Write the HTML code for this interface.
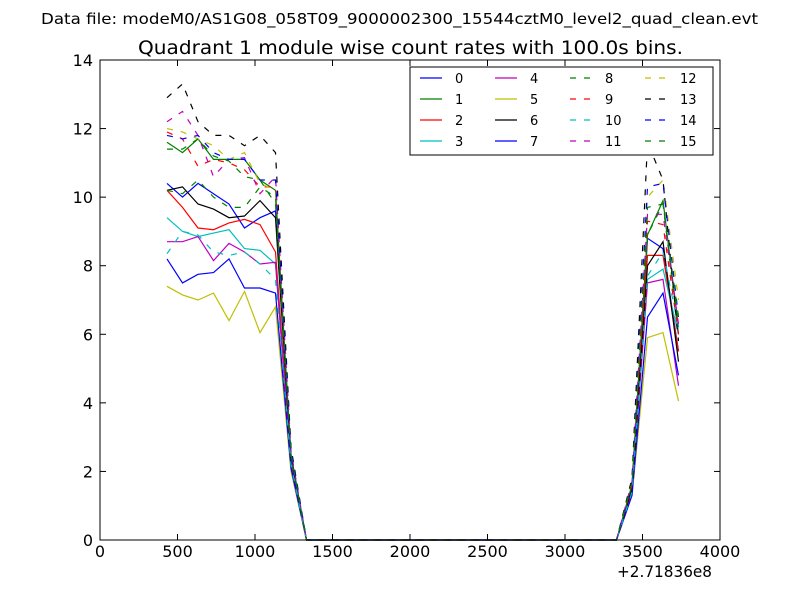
<!DOCTYPE html>
<html><head><meta charset="utf-8"><style>body{margin:0;background:#fff}svg{display:block}text{font-family:"DejaVu Sans","Liberation Sans",sans-serif}</style></head>
<body>
<svg id="c" width="800" height="600" viewBox="0 0 800 600">
<rect width="800" height="600" fill="#fff"/>
<text x="41" y="24" font-size="15" textLength="717" lengthAdjust="spacingAndGlyphs">Data file: modeM0/AS1G08_058T09_9000002300_15544cztM0_level2_quad_clean.evt</text>
<text x="138" y="54" font-size="19" textLength="545" lengthAdjust="spacingAndGlyphs">Quadrant 1 module wise count rates with 100.0s bins.</text>
<g id="plot"></g>
<rect x="100" y="60" width="620" height="480" fill="none" stroke="#000"/>
<text x="617" y="577" font-size="16" textLength="95" lengthAdjust="spacingAndGlyphs">+2.71836e8</text>
<g id="legend"></g>
</svg>
<script>
const leftX=[432,532,632,732,832,932,1032,1132,1232];
const rightX=[3432,3532,3632,3732];
const s0=[10.4,10.0,10.4,10.1,9.8,9.1,9.4,9.6,2.5],r0=[1.5,8.8,8.5,5.5];
const s1=[11.6,11.3,11.7,11.1,11.1,11.1,10.5,10.2,2.4],r1=[1.6,8.9,9.9,6.2];
const s2=[10.2,9.7,9.1,9.05,9.25,9.35,9.2,8.4,2.3],r2=[1.5,8.3,8.3,5.5];
const s3=[9.4,9.0,8.85,8.95,9.05,8.5,8.45,8.05,2.2],r3=[1.4,7.6,7.9,6.0];
const s4=[8.7,8.7,8.85,8.15,8.65,8.4,8.05,8.1,2.2],r4=[1.4,7.5,7.6,4.5];
const s5=[7.4,7.15,7.0,7.2,6.4,7.25,6.05,6.8,2.0],r5=[1.3,5.9,6.05,4.05];
const s6=[10.2,10.3,9.8,9.65,9.4,9.45,9.9,9.4,2.4],r6=[1.5,8.0,8.7,5.2];
const s7=[8.2,7.5,7.75,7.8,8.2,7.35,7.35,7.2,2.1],r7=[1.3,6.5,7.2,4.8];
const s8=[10.2,10.1,10.5,10.0,9.7,9.7,10.3,10.0,2.4],r8=[1.6,8.9,9.8,6.0];
const s9=[11.9,11.7,10.9,11.1,11.0,10.8,10.3,10.3,2.5],r9=[1.6,9.3,9.2,6.0];
const s10=[8.35,9.0,8.9,8.4,8.3,8.4,8.05,7.6,2.2],r10=[1.4,7.7,8.4,6.2];
const s11=[12.2,12.5,11.8,10.6,11.1,11.15,10.1,10.6,2.6],r11=[1.7,9.5,9.5,6.3];
const s12=[12.0,11.9,11.7,11.5,11.1,11.3,10.4,10.2,2.6],r12=[1.7,10.0,10.5,7.0];
const s13=[12.9,13.3,12.2,11.8,11.8,11.5,11.8,11.3,2.7],r13=[1.8,11.6,10.5,5.8];
const s14=[11.8,11.7,11.8,11.3,11.1,11.1,10.5,10.5,2.6],r14=[1.7,10.3,10.4,6.5];
const s15=[11.4,11.4,11.7,11.2,11.05,10.6,10.5,9.8,2.5],r15=[1.7,9.7,9.8,6.5];
const xTicks=[0,500,1000,1500,2000,2500,3000,3500,4000];
const yTicks=[0,2,4,6,8,10,12,14];
const names=["0","1","2","3","4","5","6","7","8","9","10","11","12","13","14","15"];
const colors=["#0000ff","#008000","#ff0000","#00bfbf","#bf00bf","#bfbf00","#000000"];
const L=[s0,s1,s2,s3,s4,s5,s6,s7,s8,s9,s10,s11,s12,s13,s14,s15];
const R=[r0,r1,r2,r3,r4,r5,r6,r7,r8,r9,r10,r11,r12,r13,r14,r15];
const X=v=>100+v*620/4000, Y=v=>540-v*480/14;
const NS="http://www.w3.org/2000/svg";
const svg=document.getElementById('c'),plot=document.getElementById('plot'),leg=document.getElementById('legend');
function mk(t,a,p){const e=document.createElementNS(NS,t);for(const k in a)e.setAttribute(k,a[k]);(p||svg).appendChild(e);return e;}
xTicks.forEach(v=>{
 const x=X(v);
 const t=mk('line',{x1:x,x2:x,y1:540,y2:534,stroke:'#000'});
 
 mk('line',{x1:x,x2:x,y1:60,y2:66,stroke:'#000'});
 const l=mk('text',{x:x,y:557,'font-size':16,'text-anchor':'middle'});l.textContent=v;
 
});
yTicks.forEach(v=>{
 const y=Y(v);
 const t=mk('line',{x1:100,x2:106,y1:y,y2:y,stroke:'#000'});
 
 mk('line',{x1:714,x2:720,y1:y,y2:y,stroke:'#000'});
 const l=mk('text',{x:93,y:y+6,'font-size':16,'text-anchor':'end'});l.textContent=v;
 
});
for(let i=0;i<16;i++){
 const pts=[];
 leftX.forEach((x,j)=>pts.push([x,L[i][j]]));
 for(let x=1332;x<=3332;x+=100)pts.push([x,0]);
 rightX.forEach((x,j)=>pts.push([x,R[i][j]]));
 const d=pts.map((p,k)=>(k?'L':'M')+X(p[0]).toFixed(1)+','+Y(p[1]).toFixed(1)).join('');
 const a={d:d,fill:'none',stroke:colors[i%7],'stroke-width':1.2};
 if(i>=8)a['stroke-dasharray']='6,8';
 const p=mk('path',a,plot);
 
 
}
mk('rect',{x:410,y:67,width:303,height:88,fill:'#fff',stroke:'#000'},leg);
const colX=[420,495,570,645];
for(let i=0;i<16;i++){
 const c=Math.floor(i/4),r=i%4,x=colX[c],y=78+r*21;
 const a={x1:x,x2:x+22,y1:y,y2:y,stroke:colors[i%7],'stroke-width':1.2};
 if(i>=8)a['stroke-dasharray']='6,8';
 const ln=mk('line',a,leg);
 
 
 const t=mk('text',{x:x+35,y:y+5,'font-size':13},leg);t.textContent=names[i];
 
 
}
</script>
</body></html>
